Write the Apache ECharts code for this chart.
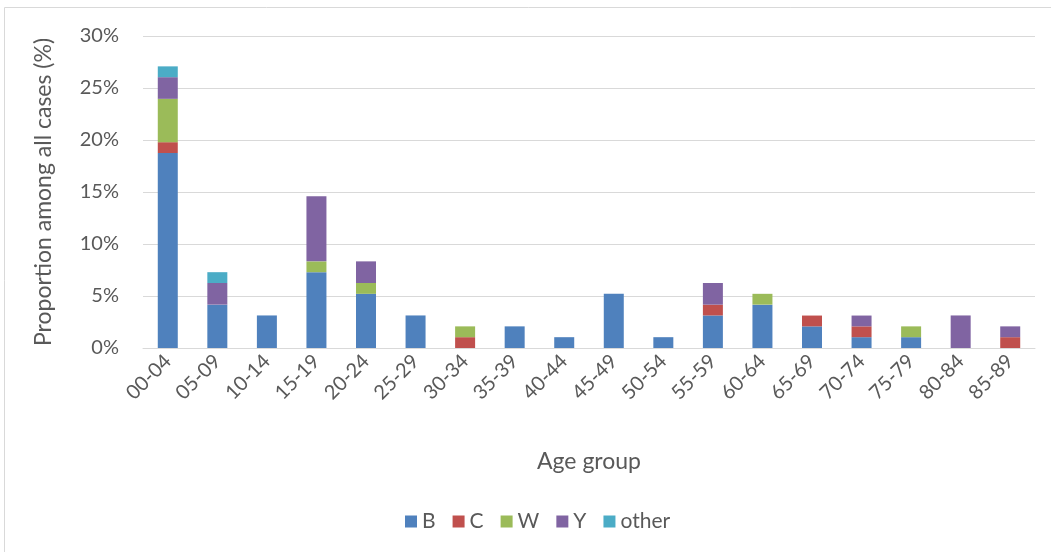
<!DOCTYPE html>
<html>
<head>
<meta charset="utf-8">
<script src="https://cdn.jsdelivr.net/npm/echarts@6/dist/echarts.min.js"></script>
<style>html,body{margin:0;padding:0;background:#fff}#c{width:1051px;height:552px}</style>
</head>
<body>
<div id="c"></div>
<script>
const categories = ['00-04','05-09','10-14','15-19','20-24','25-29','30-34','35-39','40-44','45-49','50-54','55-59','60-64','65-69','70-74','75-79','80-84','85-89'];
const seriesNames = ['B','C','W','Y','other'];
// proportion of all cases (%)
const valuesB =     [18.75, 4.17, 3.13, 7.29, 5.21, 3.13, 0,    2.08, 1.04, 5.21, 1.04, 3.13, 4.17, 2.08, 1.04, 1.04, 0,    0];
const valuesC =     [1.04,  0,    0,    0,    0,    0,    1.04, 0,    0,    0,    0,    1.04, 0,    1.04, 1.04, 0,    0,    1.04];
const valuesW =     [4.17,  0,    0,    1.04, 1.04, 0,    1.04, 0,    0,    0,    0,    0,    1.04, 0,    0,    1.04, 0,    0];
const valuesY =     [2.08,  2.08, 0,    6.25, 2.08, 0,    0,    0,    0,    0,    0,    2.08, 0,    0,    1.04, 0,    3.13, 1.04];
const valuesOther = [1.04,  1.04, 0,    0,    0,    0,    0,    0,    0,    0,    0,    0,    0,    0,    0,    0,    0,    0];
const yTicks = [0, 5, 10, 15, 20, 25, 30];
const colors = ['#4f81bd','#c0504d','#9bbb59','#8064a2','#4bacc6'];
const allValues = [valuesB, valuesC, valuesW, valuesY, valuesOther];
const font = 'Lato, "Open Sans", sans-serif';

const chart = echarts.init(document.getElementById('c'));
chart.setOption({
  animation: false,
  textStyle: {fontFamily: font},
  graphic: [{
    type: 'rect', shape: {x: 4.5, y: 7.5, width: 1100, height: 600},
    style: {fill: 'none', stroke: '#d9d9d9', lineWidth: 1}, silent: true
  }],
  grid: {left: 143, right: 16, top: 36, bottom: 204},
  legend: {
    data: seriesNames, top: 506, left: 400,
    icon: 'rect', itemWidth: 12, itemHeight: 12, itemGap: 17,
    textStyle: {fontSize: 21, color: '#595959', fontFamily: font}
  },
  xAxis: {
    type: 'category', data: categories,
    name: 'Age group', nameLocation: 'middle', nameGap: 102,
    nameTextStyle: {fontSize: 23, color: '#595959', fontFamily: font},
    axisLine: {lineStyle: {color: '#d9d9d9', width: 1}},
    axisTick: {show: false},
    axisLabel: {rotate: 45, fontSize: 20, color: '#595959', fontFamily: font, margin: 10, interval: 0}
  },
  yAxis: {
    type: 'value', min: yTicks[0], max: yTicks[yTicks.length-1], interval: 5,
    name: 'Proportion among all cases (%)', nameLocation: 'middle', nameGap: 88, nameRotate: 90,
    nameTextStyle: {fontSize: 23, color: '#595959', fontFamily: font},
    axisLine: {show: false}, axisTick: {show: false},
    axisLabel: {formatter: '{value}%', fontSize: 20, color: '#595959', fontFamily: font, margin: 24},
    splitLine: {lineStyle: {color: '#d9d9d9', width: 1}}
  },
  series: seriesNames.map((n, i) => ({
    name: n, type: 'bar', stack: 'total', barWidth: 20,
    data: allValues[i],
    itemStyle: {color: colors[i]}
  }))
});
</script>
</body>
</html>
